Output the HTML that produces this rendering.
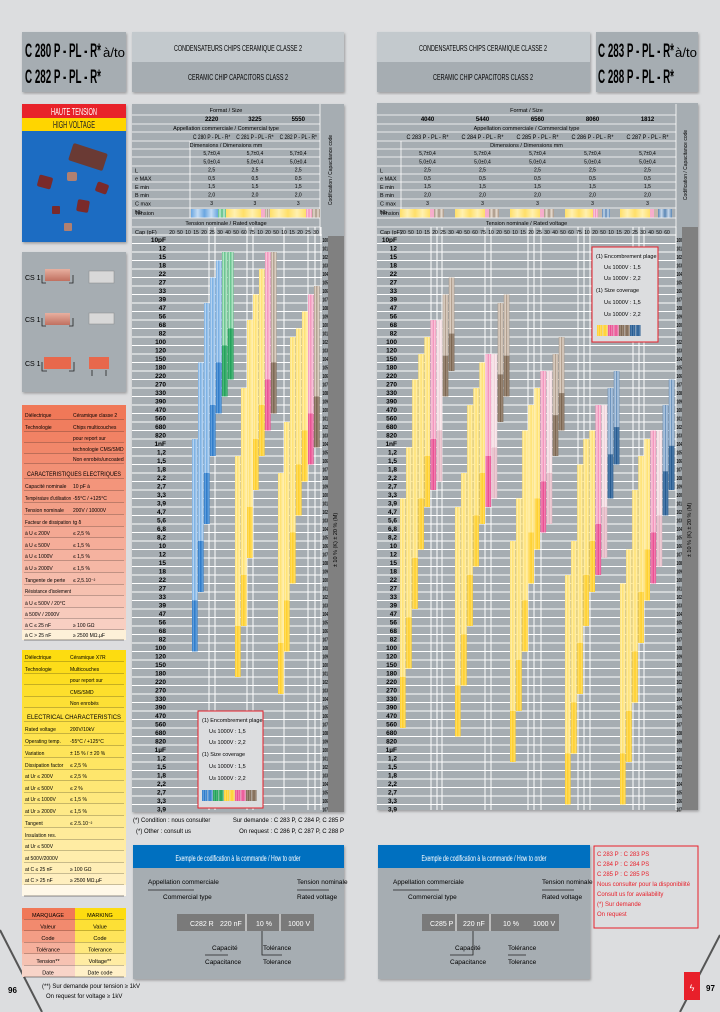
<!DOCTYPE html>
<html><head><meta charset="utf-8">
<style>
html,body{margin:0;padding:0;background:#dcdddf;}
svg{display:block;font-family:"Liberation Sans",sans-serif;}
</style></head>
<body>
<svg id="pg" width="720" height="1012" viewBox="0 0 720 1012" xmlns="http://www.w3.org/2000/svg">
<defs>
 <filter id="sh" x="-5%" y="-5%" width="110%" height="110%"><feDropShadow dx="1" dy="1.5" stdDeviation="1.2" flood-color="#707070" flood-opacity="0.6"/></filter>
 <linearGradient id="chipg" x1="0" x2="0" y1="0" y2="1"><stop offset="0" stop-color="#e8b0a0"/><stop offset="1" stop-color="#c07060"/></linearGradient>
</defs>
<rect width="720" height="1012" fill="#dcdddf"/>
<path d="M0,930 L42,1012" stroke="#555" stroke-width="2"/>
<path d="M720,935 L680,1012" stroke="#555" stroke-width="2"/>

<g filter="url(#sh)">
 <rect x="22" y="32" width="104" height="60" fill="#a6adb2"/>
</g>
<text x="25" y="57" font-size="19" font-weight="bold" textLength="76" lengthAdjust="spacingAndGlyphs">C 280 P - PL - R*</text>
<text x="103" y="57" font-size="13" textLength="22" lengthAdjust="spacingAndGlyphs">à/to</text>
<text x="25" y="83" font-size="19" font-weight="bold" textLength="76" lengthAdjust="spacingAndGlyphs">C 282 P - PL - R*</text>

<g filter="url(#sh)">
 <rect x="132" y="32" width="212" height="30" fill="#c3c9cd"/>
 <rect x="132" y="62" width="212" height="30" fill="#a6adb2"/>
</g>
<text x="238" y="51" font-size="8" text-anchor="middle" textLength="128" lengthAdjust="spacingAndGlyphs">CONDENSATEURS CHIPS CERAMIQUE CLASSE 2</text>
<text x="238" y="80" font-size="8" text-anchor="middle" textLength="100" lengthAdjust="spacingAndGlyphs">CERAMIC CHIP CAPACITORS CLASS 2</text>

<g filter="url(#sh)">
 <rect x="377" y="32" width="213" height="30" fill="#c3c9cd"/>
 <rect x="377" y="62" width="213" height="30" fill="#a6adb2"/>
</g>
<text x="483" y="51" font-size="8" text-anchor="middle" textLength="128" lengthAdjust="spacingAndGlyphs">CONDENSATEURS CHIPS CERAMIQUE CLASSE 2</text>
<text x="483" y="80" font-size="8" text-anchor="middle" textLength="100" lengthAdjust="spacingAndGlyphs">CERAMIC CHIP CAPACITORS CLASS 2</text>
<g filter="url(#sh)">
 <rect x="596" y="32" width="102" height="60" fill="#a6adb2"/>
</g>
<text x="598" y="57" font-size="19" font-weight="bold" textLength="76" lengthAdjust="spacingAndGlyphs">C 283 P - PL - R*</text>
<text x="675" y="57" font-size="13" textLength="22" lengthAdjust="spacingAndGlyphs">à/to</text>
<text x="598" y="83" font-size="19" font-weight="bold" textLength="76" lengthAdjust="spacingAndGlyphs">C 288 P - PL - R*</text>

<g filter="url(#sh)">
 <rect x="22" y="104" width="104" height="138" fill="#1d6cc2"/>
 <rect x="22" y="104" width="104" height="14" fill="#e8202a"/>
 <rect x="22" y="118" width="104" height="13" fill="#ffd500"/>
</g>
<text x="74" y="115" font-size="10" fill="#fff" text-anchor="middle" textLength="46" lengthAdjust="spacingAndGlyphs">HAUTE TENSION</text>
<text x="74" y="128" font-size="10" fill="#222" text-anchor="middle" textLength="42" lengthAdjust="spacingAndGlyphs">HIGH VOLTAGE</text>
<g>
 <rect x="70" y="148" width="36" height="18" rx="2" fill="#6a3a34" transform="rotate(18 88 157)"/>
 <rect x="38" y="176" width="14" height="12" rx="2" fill="#7a2a2a" transform="rotate(15 45 182)"/>
 <rect x="67" y="172" width="10" height="9" rx="2" fill="#b08070"/>
 <rect x="96" y="183" width="12" height="10" rx="2" fill="#7a2a2a" transform="rotate(20 102 188)"/>
 <rect x="52" y="206" width="8" height="8" rx="1" fill="#7a2a2a"/>
 <rect x="77" y="200" width="12" height="12" rx="2" fill="#7a2a2a" transform="rotate(10 83 206)"/>
 <rect x="64" y="223" width="8" height="8" rx="1" fill="#b08070"/>
</g>

<g filter="url(#sh)">
 <rect x="22" y="252" width="104" height="140" fill="#a6adb2"/>
</g>
<g>
 <rect x="45" y="269" width="25" height="12" fill="url(#chipg)"/>
 <rect x="89" y="271" width="25" height="12" fill="#d8d8d8" stroke="#888" stroke-width="0.5"/>
 <rect x="45" y="313" width="25" height="12" fill="url(#chipg)"/>
 <rect x="89" y="313" width="25" height="11" fill="#d8d8d8" stroke="#888" stroke-width="0.5"/>
 <rect x="44" y="357" width="27" height="12" fill="#e8684c"/>
 <rect x="89" y="357" width="20" height="12" fill="#e8684c"/>
 <path d="M42,275 v8 h4 M73,275 v8 h-4 M42,318 v8 h4 M73,318 v8 h-4 M42,362 v9 h5 M74,362 v9 h-5 M92,370 v6 M106,370 v6" stroke="#222" fill="none" stroke-width="0.8"/>
 <text x="25" y="280" font-size="7">CS 1</text>
 <text x="25" y="322" font-size="7">CS 1</text>
 <text x="25" y="366" font-size="7">CS 1</text>
</g>

<g filter="url(#sh)">
 <rect x="132" y="104" width="212" height="708" fill="#a6adb2"/>
</g>
<rect x="328" y="236" width="16" height="576" fill="#808080"/>
<g filter="url(#sh)">
 <rect x="377" y="103" width="321" height="707" fill="#a6adb2"/>
</g>
<rect x="682" y="227" width="16" height="583" fill="#808080"/>

<g id="leftChart"></g>
<g id="rightChart"></g>
<g id="tables"></g>

<g>
 <rect x="198" y="711" width="65" height="97" fill="#dcdddf" stroke="#e8202a" stroke-width="1"/>
 <text x="202" y="722" font-size="5.5">(1) Encombrement plage</text>
 <text x="209" y="733" font-size="5.5">U≤ 1000V : 1,5</text>
 <text x="209" y="744" font-size="5.5">U≥ 1000V : 2,2</text>
 <text x="202" y="756" font-size="5.5">(1) Size coverage</text>
 <text x="209" y="768" font-size="5.5">U≤ 1000V : 1,5</text>
 <text x="209" y="780" font-size="5.5">U≥ 1000V : 2,2</text>
 <g id="leftSw"></g>
</g>
<g>
 <rect x="592" y="247" width="66" height="95" fill="#dcdddf" stroke="#e8202a" stroke-width="1"/>
 <text x="596" y="258" font-size="5.5">(1) Encombrement plage</text>
 <text x="604" y="269" font-size="5.5">U≤ 1000V : 1,5</text>
 <text x="604" y="280" font-size="5.5">U≥ 1000V : 2,2</text>
 <text x="596" y="292" font-size="5.5">(1) Size coverage</text>
 <text x="604" y="304" font-size="5.5">U≤ 1000V : 1,5</text>
 <text x="604" y="316" font-size="5.5">U≥ 1000V : 2,2</text>
 <g id="rightSw"></g>
</g>

<text x="133" y="822" font-size="6">(*) Condition : nous consulter</text>
<text x="136" y="833" font-size="6">(*) Other : consult us</text>
<text x="344" y="822" font-size="6" text-anchor="end">Sur demande : C 283 P, C 284 P, C 285 P</text>
<text x="344" y="833" font-size="6" text-anchor="end">On request : C 286 P, C 287 P, C 288 P</text>

<g filter="url(#sh)">
 <rect x="133" y="845" width="211" height="134" fill="#a6adb2"/>
 <rect x="133" y="845" width="211" height="23" fill="#0070c0"/>
</g>
<text x="238" y="861" font-size="8.5" fill="#fff" text-anchor="middle" textLength="125" lengthAdjust="spacingAndGlyphs">Exemple de codification à la commande / How to order</text>
<text x="148" y="884" font-size="6.5">Appellation commerciale</text>
<line x1="148" y1="890" x2="194" y2="890" stroke="#222" stroke-width="0.8"/>
<text x="163" y="899" font-size="6.5">Commercial type</text>
<text x="297" y="884" font-size="6.5">Tension nominale</text>
<line x1="297" y1="890" x2="329" y2="890" stroke="#222" stroke-width="0.8"/>
<text x="297" y="899" font-size="6.5">Rated voltage</text>
<g>
 <rect x="177" y="914" width="137" height="17" fill="#7a7a7a"/>
 <line x1="246" y1="914" x2="246" y2="931" stroke="#fff"/><line x1="280" y1="914" x2="280" y2="931" stroke="#fff"/>
 <text x="190" y="926" font-size="7" fill="#fff">C282 R</text>
 <text x="220" y="926" font-size="7" fill="#fff">220 nF</text>
 <text x="256" y="926" font-size="7" fill="#fff">10 %</text>
 <text x="288" y="926" font-size="7" fill="#fff">1000 V</text>
</g>
<path d="M262,931 V955 H282" stroke="#222" fill="none" stroke-width="0.8"/>
<text x="212" y="950" font-size="6.5">Capacité</text>
<line x1="205" y1="955" x2="228" y2="955" stroke="#222" stroke-width="0.8"/>
<text x="205" y="964" font-size="6.5">Capacitance</text>
<text x="263" y="950" font-size="6.5">Tolérance</text>
<text x="263" y="964" font-size="6.5">Tolerance</text>

<g filter="url(#sh)">
 <rect x="378" y="845" width="212" height="134" fill="#a6adb2"/>
 <rect x="378" y="845" width="212" height="23" fill="#0070c0"/>
</g>
<text x="484" y="861" font-size="8.5" fill="#fff" text-anchor="middle" textLength="125" lengthAdjust="spacingAndGlyphs">Exemple de codification à la commande / How to order</text>
<text x="393" y="884" font-size="6.5">Appellation commerciale</text>
<line x1="393" y1="890" x2="439" y2="890" stroke="#222" stroke-width="0.8"/>
<text x="408" y="899" font-size="6.5">Commercial type</text>
<text x="542" y="884" font-size="6.5">Tension nominale</text>
<line x1="542" y1="890" x2="574" y2="890" stroke="#222" stroke-width="0.8"/>
<text x="542" y="899" font-size="6.5">Rated voltage</text>
<g>
 <rect x="422" y="914" width="137" height="17" fill="#7a7a7a"/>
 <line x1="456" y1="914" x2="456" y2="931" stroke="#fff"/><line x1="490" y1="914" x2="490" y2="931" stroke="#fff"/>
 <text x="430" y="926" font-size="7" fill="#fff">C285 P</text>
 <text x="463" y="926" font-size="7" fill="#fff">220 nF</text>
 <text x="503" y="926" font-size="7" fill="#fff">10 %</text>
 <text x="533" y="926" font-size="7" fill="#fff">1000 V</text>
</g>
<path d="M473,931 V955 H450" stroke="#222" fill="none" stroke-width="0.8"/>
<text x="455" y="950" font-size="6.5">Capacité</text>
<text x="450" y="964" font-size="6.5">Capacitance</text>
<text x="508" y="950" font-size="6.5">Tolérance</text>
<line x1="508" y1="955" x2="526" y2="955" stroke="#222" stroke-width="0.8"/>
<text x="508" y="964" font-size="6.5">Tolerance</text>

<g>
 <rect x="594" y="846" width="104" height="82" fill="none" stroke="#e8202a" stroke-width="1"/>
 <text x="597" y="856" font-size="6" fill="#e8202a">C 283 P : C 283 PS</text>
 <text x="597" y="866" font-size="6" fill="#e8202a">C 284 P : C 284 PS</text>
 <text x="597" y="876" font-size="6" fill="#e8202a">C 285 P : C 285 PS</text>
 <text x="597" y="886" font-size="6" fill="#e8202a">Nous consulter pour la disponibilité</text>
 <text x="597" y="896" font-size="6" fill="#e8202a">Consult us for availability</text>
 <text x="597" y="906" font-size="6" fill="#e8202a">(*) Sur demande</text>
 <text x="597" y="916" font-size="6" fill="#e8202a">On request</text>
</g>
<rect x="684" y="972" width="16" height="28" fill="#e8202a"/>
<text x="692" y="991" font-size="9" fill="#fff" text-anchor="middle">ϟ</text>
<text x="706" y="991" font-size="8" font-weight="bold">97</text>
<text x="8" y="993" font-size="8" font-weight="bold">96</text>
<text x="42" y="988" font-size="6">(**) Sur demande pour tension ≥ 1kV</text>
<text x="46" y="998" font-size="6">On request for voltage ≥ 1kV</text>
</svg>

<script>
var NS="http://www.w3.org/2000/svg";
function mk(tag,attrs,parent,txt){var e=document.createElementNS(NS,tag);for(var k in attrs)e.setAttribute(k,attrs[k]);if(txt!==undefined)e.textContent=txt;parent.appendChild(e);return e;}

// capacitance value labels (E12 series, rows of the chart)
var capLabels=["10pF","12","15","18","22","27","33","39","47","56","68","82","100","120","150","180","220","270","330","390","470","560","680","820",
 "1nF","1,2","1,5","1,8","2,2","2,7","3,3","3,9","4,7","5,6","6,8","8,2","10","12","15","18","22","27","33","39","47","56","68","82","100","120","150","180","220","270","330","390","470","560","680","820",
 "1µF","1,2","1,5","1,8","2,2","2,7","3,3","3,9"];
// left chart: 3 case sizes x 7 voltage columns; values = capacitance row index (max / min)
var leftTopA=[24,15,8,5,3,2,2];
var leftBotA=[49,42,34,26,21,19,17];
var leftTopB=[26,18,10,7,4,2,2];
var leftBotB=[52,46,38,30,26,23,21];
var leftTopC=[28,22,12,11,9,7,6];
var leftBotC=[54,49,41,33,29,27,25];
var leftColA=["blue","blue","blue","blue","blue","green","green"];
var leftColBC=["yellow","yellow","yellow","yellow","yellow","pink","brown"];
// right chart: 5 case sizes x 9 voltage columns
var rightTop0=[31,25,17,14,12,10,10,7,5];
var rightBot0=[58,51,44,37,32,30,29,19,16];
var rightTop1=[32,28,20,18,15,14,14,8,7];
var rightBot1=[59,53,46,39,34,32,31,22,19];
var rightTop2=[36,31,23,20,18,16,16,14,12];
var rightBot2=[62,56,49,41,37,35,34,26,23];
var rightTop3=[40,36,27,24,23,20,20,18,16];
var rightBot3=[67,61,54,46,42,40,38,31,27];
var rightTop4=[41,37,30,26,24,23,23,20,17];
var rightBot4=[67,62,55,48,43,41,39,33,30];
var rightColAB=["yellow","yellow","yellow","yellow","yellow","pink","lightpink","brown","brown"];
var rightColDE=["yellow","yellow","yellow","yellow","yellow","pink","lightpink","navy","navy"];
var leftSizes=["2220","3225","5550"];
var rightSizes=["4040","5440","6560","8060","1812"];
var leftVolt=["200","500","1000","1500","2000","2500","3000","4000","5000","6000","7500","10000"];

var PAL={blue:["#c4dcf4","#6aa6e0","#2272c4"],green:["#c6ecd4","#54bc80","#179a52"],yellow:["#fff0b0","#ffdf68","#ffcc22"],
 pink:["#fad0e0","#f28ab6","#e8448c"],brown:["#e8ddd2","#a69382","#735d48"],lightpink:["#fbeef1","#efd0d8","#e2b2c0"],navy:["#c8d8ea","#5a86b4","#1c5288"]};
var defs=document.querySelector("defs");
for(var c in PAL){
 ["L","D"].forEach(function(m){
  var g=mk("linearGradient",{id:"g"+c+m,x1:"0",x2:"1",y1:"0",y2:"0"},defs);
  var p=PAL[c]; var a=m=="L"?[p[1],p[0],p[1],p[0],p[1]]:[p[2],p[1],p[2],p[1],p[2]];
  a.forEach(function(col,i){mk("stop",{offset:(i/4),"stop-color":col},g);});
 });
}

function rowY(r){return 235+8.5*r;}
function leftX(g,s){return 192+g*43+s*6;}
function rightX(g,s){return 400+g*55+s*6.1;}

function drawHeader(par,x0,x1,labW,sizes,colStart,colW,base){
 var ys=[115,124,132,141,149,157,166,174,182,190,199,208,218,227];
 ys.forEach(function(y){mk("line",{x1:x0,x2:x1,y1:y,y2:y,stroke:"#fff","stroke-width":0.8},par);});
 mk("line",{x1:x0+labW,x2:x0+labW,y1:141,y2:218,stroke:"#fff","stroke-width":0.8},par);
 mk("line",{x1:x1,x2:x1,y1:104,y2:236,stroke:"#fff","stroke-width":0.8},par);
 mk("text",{x:(x0+x1)/2,y:112,"font-size":5.5,"text-anchor":"middle"},par,"Format / Size");
 mk("text",{x:(x0+x1)/2,y:130,"font-size":5.5,"text-anchor":"middle"},par,"Appellation commerciale / Commercial type");
 mk("text",{x:(x0+x1)/2,y:147,"font-size":5.5,"text-anchor":"middle"},par,"Dimensions / Dimensions mm");
 mk("text",{x:(x0+x1)/2,y:225,"font-size":5.5,"text-anchor":"middle"},par,"Tension nominale / Rated voltage");
 var rl=["","L","e MAX","E min","B min","C max","Nb"];
 rl.forEach(function(l,i){mk("text",{x:x0+3,y:164+i*8.3,"font-size":5.5},par,l);});
 mk("text",{x:x0+3,y:215,"font-size":5.5},par,"Tension");
 sizes.forEach(function(s,i){
  var cx=colStart+colW*(i+0.5);
  mk("text",{x:cx,y:121,"font-size":6,"text-anchor":"middle","font-weight":"bold"},par,s);
  mk("text",{x:cx,y:139,"font-size":6,"text-anchor":"middle",textLength:Math.min(colW-6,42),lengthAdjust:"spacingAndGlyphs"},par,"C 28"+(i+base)+" P - PL - R*");
  ["5,7±0,4","5,0±0,4","2,5","0,5","1,5","2,0","3"].forEach(function(v,j){mk("text",{x:cx,y:155+j*8.3,"font-size":5,"text-anchor":"middle"},par,v);});
 });
 mk("text",{x:x0+3,y:234,"font-size":5.5},par,"Cap (pF)");
}

function drawChart(gid,x0,x1,codeX,vlines,bars,xf,strip,labX){
 var par=document.getElementById(gid);
 for(var r=0;r<capLabels.length;r++){
  var y=rowY(r);
  if(y>810)break;
  var hl=mk("line",{x1:x0,x2:codeX,y1:y,y2:y,stroke:"#fff","stroke-width":0.9},par);
  
  
  var lb=mk("text",{x:labX,y:y+7,"font-size":6.5,"text-anchor":"end","font-weight":"bold"},par,capLabels[r]);
  
  
  var cd=mk("text",{x:codeX+0.5,y:y+7,"font-size":5.5,"font-weight":"bold",textLength:5.5,lengthAdjust:"spacingAndGlyphs"},par,"10"+(r%10));
  
  
 }
 vlines.forEach(function(vx){
  var vl=mk("line",{x1:vx,x2:vx,y1:227,y2:810,stroke:"#fff","stroke-width":1},par);
  
  
 });
 var n=Math.floor((codeX-(labX+4))/8);
 for(var i=0;i<n;i++){mk("text",{x:labX+6+i*8,y:234,"font-size":5,"text-anchor":"middle"},par,leftVolt[i%leftVolt.length].slice(0,2));}
 bars.forEach(function(b){
  var x=xf(b.g,b.s), yt=rowY(b.t), yb=rowY(b.b), split=rowY(Math.max(b.t+(b.b-b.t)*0.6,b.b-6));
  var r1=mk("rect",{x:x,y:yt,width:5.6,height:split-yt,fill:"url(#g"+b.c+"L)"},par);
  
  
  var r2=mk("rect",{x:x,y:split,width:5.6,height:yb-split,fill:"url(#g"+b.c+"D)"},par);
  
  
 });
 strip.forEach(function(s){mk("rect",{x:s[0],y:209,width:s[1],height:8.5,fill:"url(#g"+s[2]+"L)"},par);});
}

function makeBars(tops,bots,cols,g){var a=[];for(var i=0;i<tops.length;i++)a.push({g:g,s:i,t:tops[i],b:bots[i],c:cols[i]});return a;}

var lb=[].concat(makeBars(leftTopA,leftBotA,leftColA,0),makeBars(leftTopB,leftBotB,leftColBC,1),makeBars(leftTopC,leftBotC,leftColBC,2));
drawHeader(document.getElementById("leftChart"),132,320,58,leftSizes,190,43.3,0);
drawChart("leftChart",132,344,322,[209,215,247,253,284,308,315,321],lb,leftX,
 [[191,27,"blue"],[218,8,"green"],[226,35,"yellow"],[261,4,"pink"],[265,5,"brown"],[270,36,"yellow"],[306,6,"pink"],[312,8,"brown"]],166);

var rb=[].concat(makeBars(rightTop0,rightBot0,rightColAB,0),makeBars(rightTop1,rightBot1,rightColAB,1),makeBars(rightTop2,rightBot2,rightColAB,2),makeBars(rightTop3,rightBot3,rightColDE,3),makeBars(rightTop4,rightBot4,rightColDE,4));
drawHeader(document.getElementById("rightChart"),377,676,24,rightSizes,400,55,3);
drawChart("rightChart",377,698,676,[431,437,442,485,491,528,534,541,578,584,590,633,639,644,676],rb,rightX,
 [[400,30,"yellow"],[430,4,"pink"],[434,10,"brown"],[455,30,"yellow"],[485,4,"pink"],[489,10,"brown"],[510,30,"yellow"],[540,4,"pink"],[544,10,"brown"],[565,28,"yellow"],[593,5,"pink"],[598,4,"brown"],[602,8,"navy"],[620,30,"yellow"],[650,4,"pink"],[654,4,"brown"],[658,14,"navy"]],397);

mk("text",{transform:"translate(337,540) rotate(-90)","font-size":5.5,"text-anchor":"middle"},document.getElementById("leftChart"),"± 10 % (K)  ± 20 % (M)");
mk("text",{transform:"translate(691,530) rotate(-90)","font-size":5.5,"text-anchor":"middle"},document.getElementById("rightChart"),"± 10 % (K)  ± 20 % (M)");
mk("text",{transform:"translate(332,170) rotate(-90)","font-size":5,"text-anchor":"middle"},document.getElementById("leftChart"),"Codification / Capacitance code");
mk("text",{transform:"translate(687,165) rotate(-90)","font-size":5,"text-anchor":"middle"},document.getElementById("rightChart"),"Codification / Capacitance code");

var swL=["blue","blue","green","green","yellow","yellow","pink","pink","brown","brown"];
swL.forEach(function(c,i){var s=mk("rect",{x:202+i*5.5,y:790,width:5,height:11,fill:"url(#g"+c+"D)"},document.getElementById("leftSw"));
 
 });
var swR=["yellow","yellow","pink","pink","brown","brown","navy","navy"];
swR.forEach(function(c,i){var s=mk("rect",{x:597+i*5.5,y:325,width:5,height:11,fill:"url(#g"+c+"D)"},document.getElementById("rightSw"));
 
 });

var tb=document.getElementById("tables");
function lerp(a,b,t){var pa=[1,3,5].map(function(i){return parseInt(a.substr(i,2),16);}),pb=[1,3,5].map(function(i){return parseInt(b.substr(i,2),16);});
 return "rgb("+pa.map(function(v,i){return Math.round(v+(pb[i]-v)*t);}).join(",")+")";}
function table(rows,c1,c2,split){
 rows.forEach(function(r,i){
  var y=r[2], hh=r[3];
  var col=r[4]?r[4]:lerp(c1,c2,i/(rows.length-1));
  mk("rect",{x:22,y:y,width:104,height:hh,fill:col},tb);
  mk("line",{x1:24,x2:124,y1:y+hh,y2:y+hh,stroke:"#222","stroke-width":0.6},tb);
  if(r[1]===null){mk("text",{x:74,y:y+hh-3,"font-size":6,"text-anchor":"middle",textLength:94,lengthAdjust:"spacingAndGlyphs"},tb,r[0]);}
  else{
   var a={x:25,y:y+hh-3,"font-size":5};
   if(r[0].length>20){a.textLength=split-27;a.lengthAdjust="spacingAndGlyphs";}
   mk("text",a,tb,r[0]);mk("text",{x:split,y:y+hh-3,"font-size":5},tb,r[1]);}
 });
}
var sal=[["Diélectrique","Céramique classe 2",405,15],["Technologie","Chips multicouches",420,12],["","pour report sur",432,11],["","technologie CMS/SMD",443,11],["","Non enrobés/uncoated",454,10],
 ["CARACTERISTIQUES ELECTRIQUES",null,464,15],["Capacité nominale","10 pF à",479,12],["Température d'utilisation","-55°C / +125°C",491,12],["Tension nominale","200V / 10000V",503,12],
 ["Facteur de dissipation","tg δ",515,12],["à U ≤ 200V","≤ 2,5 %",527,11],["à U ≤ 500V","≤ 1,5 %",538,12],["à U ≤ 1000V","≤ 1,5 %",550,11],["à U ≥ 2000V","≤ 1,5 %",561,12],
 ["Tangente de perte","≤ 2,5.10⁻²",573,12],["Résistance d'isolement","",585,11],["à U ≤ 500V / 20°C","",596,12],["à 500V / 2000V","",608,11],["à C ≤ 25 nF","≥ 100 GΩ",619,11],["à C > 25 nF","≥ 2500 MΩ.µF",630,10,"#fdf0d8"]];
table(sal,"#f07858","#f8d4c8",73);
var yel=[["Diélectrique","Céramique X7R",650,12],["Technologie","Multicouches",662,12],["","pour report sur",674,11],["","CMS/SMD",685,12],["","Non enrobés",697,11],
 ["ELECTRICAL CHARACTERISTICS",null,708,14],["Rated voltage","200V/10kV",722,12],["Operating temp.","-55°C / +125°C",734,12],["Variation","± 15 % / ± 20 %",746,12],
 ["Dissipation factor","≤ 2,5 %",758,12],["at Ur ≤ 200V","≤ 2,5 %",770,11],["at Ur ≤ 500V","≤ 2 %",781,12],["at Ur ≤ 1000V","≤ 1,5 %",793,11],["at Ur ≥ 2000V","≤ 1,5 %",804,12],
 ["Tangent","≤ 2.5.10⁻²",816,12],["Insulation res.","",828,12],["at Ur ≤ 500V","",840,11],["at 500V/2000V","",851,12],["at C ≤ 25 nF","≥ 100 GΩ",863,11],["at C > 25 nF","≥ 2500 MΩ.µF",874,11],["","",885,11,"#fff8e8"]];
table(yel,"#fddc10","#fff0c8",70);
var mrk=[["MARQUAGE","MARKING"],["Valeur","Value"],["Code","Code"],["Tolérance","Tolerance"],["Tension**","Voltage**"],["Date","Date code"]];
mrk.forEach(function(r,i){var y=908+i*11.5;
 mk("rect",{x:22,y:y,width:53,height:11.5,fill:lerp("#f07858","#f8d4c8",i/5)},tb);
 mk("rect",{x:75,y:y,width:51,height:11.5,fill:lerp("#fddc10","#fff0c8",i/5)},tb);
 mk("line",{x1:24,x2:124,y1:y+11.5,y2:y+11.5,stroke:"#222","stroke-width":0.6},tb);
 mk("text",{x:48,y:y+9,"font-size":5.5,"text-anchor":"middle"},tb,r[0]);
 mk("text",{x:100,y:y+9,"font-size":5.5,"text-anchor":"middle"},tb,r[1]);
});
</script>
</body></html>
